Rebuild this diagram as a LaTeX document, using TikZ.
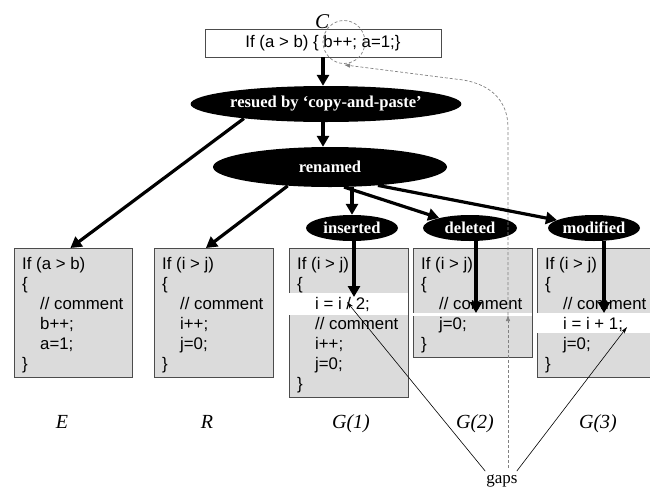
\documentclass[tikz,border=0pt]{standalone}
\usepackage{fontspec}
\setmainfont{Liberation Serif}
\newfontfamily\arialfont{Liberation Sans}
\usetikzlibrary{shapes.geometric,arrows.meta,calc}
\begin{document}
\begin{tikzpicture}[x=1pt,y=-1pt,
  codebox/.style={draw=black!70, fill=black!14, line width=0.8pt, inner sep=0pt, anchor=north west},
  band/.style={fill=white, draw=none},
  blob/.style={ellipse, fill=black, text=white, inner sep=0pt, font=\fontsize{16.6}{18}\selectfont\bfseries},
  code/.style={anchor=base west, inner sep=0pt, font=\arialfont\fontsize{16.8}{20}\selectfont},
  lab/.style={anchor=base, inner sep=0pt, font=\fontsize{20}{22}\selectfont\itshape},
  thickarrow/.style={line width=3.2pt, -{Triangle[length=11pt,width=12pt]}},
  gapline/.style={line width=0.6pt, -{Stealth[length=7pt,width=4pt]}},
  dashline/.style={draw=black!50, line width=0.7pt, dash pattern=on 3pt off 2pt},
  dashtip/.style={-{Latex[length=6pt,width=4.5pt]}},
]
\useasboundingbox (0,0) rectangle (650,490);

% top code box
\node[draw=black!70, line width=0.8pt, minimum width=236pt, minimum height=28pt, inner sep=0pt,
      font=\arialfont\fontsize{16.8}{20}\selectfont] (C) at (323,43) {If (a > b) \{ b++; a=1;\}};
\node[lab, font=\fontsize{21}{23}\selectfont\itshape] (Clab) at (322,28) {C};
\node[dashline, ellipse, minimum width=42pt, minimum height=43pt, inner sep=0pt] (bpp) at (344,42) {};

% ellipses
\node[blob, minimum width=233pt, minimum height=36pt] (reuse) at (326,104) {resued by ‘copy-and-paste’};
\node[blob, minimum width=234pt, minimum height=40pt] (renamed) at (330,167) {renamed};
\node[blob, minimum width=92pt, minimum height=26pt] (ins) at (352,228) {inserted};
\node[blob, minimum width=94pt, minimum height=26pt] (del) at (470,228) {deleted};
\node[blob, minimum width=92pt, minimum height=26pt] (mod) at (594,228) {modified};

% boxes
\node[codebox, minimum width=118pt, minimum height=129pt] (Ebox) at (14,248) {};
\node[codebox, minimum width=119pt, minimum height=129pt] (Rbox) at (154,248) {};
\node[codebox, minimum width=119pt, minimum height=149pt] (G1box) at (289,248) {};
\node[codebox, minimum width=119pt, minimum height=109pt] (G2box) at (413,248) {};
\node[codebox, minimum width=119pt, minimum height=129pt] (G3box) at (537,248) {};

% white gap bands
\fill[band] (289.4,293) rectangle (407.6,315);
\fill[band] (413.4,313) rectangle (531.6,315.5);
\fill[band] (537.4,313) rectangle (656,333);

% code lines E
\node[code] (e1) at (22,269) {If (a > b)};
\node[code] (e2) at (22,289) {\{};
\node[code] (e3) at (40,309) {// comment};
\node[code] (e4) at (40,329) {b++;};
\node[code] (e5) at (40,349) {a=1;};
\node[code] (e6) at (22,369) {\}};
% R
\node[code] (r1) at (162,269) {If (i > j)};
\node[code] (r2) at (162,289) {\{};
\node[code] (r3) at (180,309) {// comment};
\node[code] (r4) at (180,329) {i++;};
\node[code] (r5) at (180,349) {j=0;};
\node[code] (r6) at (162,369) {\}};
% G1
\node[code] (a1) at (297,269) {If (i > j)};
\node[code] (a2) at (297,289) {\{};
\node[code] (a3) at (315,309) {i = i / 2;};
\node[code] (a4) at (315,329) {// comment};
\node[code] (a5) at (315,349) {i++;};
\node[code] (a6) at (315,369) {j=0;};
\node[code] (a7) at (297,389) {\}};
% G2
\node[code] (b1) at (421,269) {If (i > j)};
\node[code] (b2) at (421,289) {\{};
\node[code] (b3) at (439,309) {// comment};
\node[code] (b4) at (439,329) {j=0;};
\node[code] (b5) at (421,349) {\}};
% G3
\node[code] (c1) at (545,269) {If (i > j)};
\node[code] (c2) at (545,289) {\{};
\node[code] (c3) at (563,309) {// comment};
\node[code] (c4) at (563,329) {i = i + 1;};
\node[code] (c5) at (563,349) {j=0;};
\node[code] (c6) at (545,369) {\}};

% labels
\node[lab] (Elab) at (62,428) {E};
\node[lab] (Rlab) at (207,428) {R};
\node[lab] (G1lab) at (351,428) {G(1)};
\node[lab] (G2lab) at (475,428) {G(2)};
\node[lab] (G3lab) at (598,428) {G(3)};
\node[anchor=base, inner sep=0pt, font=\fontsize{17}{19}\selectfont] (gaps) at (502,483) {gaps};

% dashed connector
\coordinate (dashbot) at (508,468);
\coordinate (g2gap) at (508,315);
\draw[dashline, dashtip] (dashbot) -- (g2gap);
\draw[dashline, dashtip] (g2gap) -- (508,128) .. controls (508,100) and (490,82) .. (455,79) -- ($(bpp.south)+(0,1)$);

% thick arrows
\draw[thickarrow] (C.south) -- (C.south |- reuse.north);
\draw[thickarrow] (reuse.south -| C.south) -- (C.south |- renamed.north);
\draw[thickarrow] (reuse.190) -- ($(Ebox.north)+(-3,0)$);
\draw[thickarrow] (renamed.204) -- ($(Rbox.north)+(-8,0)$);
\draw[thickarrow] (renamed.south -| ins.north) -- (ins.north);
\draw[thickarrow] (renamed.305) -- (del.162);
\draw[thickarrow] (renamed.339) -- (mod.168);
\coordinate (g1tip) at (354,297);
\coordinate (g2tip) at (476,313);
\coordinate (g3tip) at (604,313);
\draw[thickarrow] (ins.south -| g1tip) -- (g1tip);
\draw[thickarrow] (del.south -| g2tip) -- (g2tip);
\draw[thickarrow] (mod.south -| g3tip) -- (g3tip);

% gap pointers
\coordinate (insgap) at (347,302);
\coordinate (modgap) at (627,327);
\draw[gapline] ($(gaps.north west)+(-1,-3)$) -- (insgap);
\draw[gapline] ($(gaps.north east)+(-1,-3)$) -- (modgap);
\end{tikzpicture}
\end{document}
